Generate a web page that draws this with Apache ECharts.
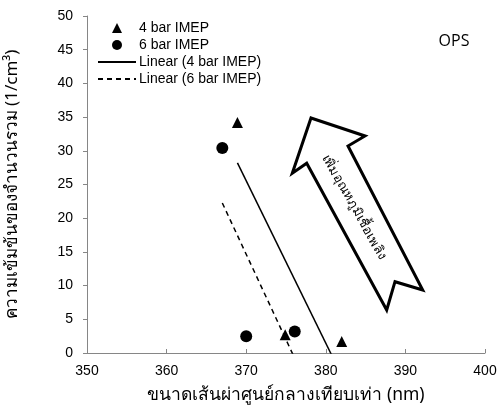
<!DOCTYPE html>
<html>
<head>
<meta charset="utf-8">
<script src="https://cdn.jsdelivr.net/npm/echarts@6/dist/echarts.min.js"></script>
<style>
html,body{margin:0;padding:0;background:#fff;}
#chart{width:500px;height:408px;}
</style>
</head>
<body>
<div id="chart"></div>
<script>
// ---- data ----
const xTicks = [350, 360, 370, 380, 390, 400];
const yTicks = [0, 5, 10, 15, 20, 25, 30, 35, 40, 45, 50];
const bar4X = [368.9, 374.9, 382.0];
const bar4Y = [34.2, 2.7, 1.7];
const bar6X = [367.0, 370.0, 376.1];
const bar6Y = [30.4, 2.5, 3.2];
const seriesNames = ['4 bar IMEP', '6 bar IMEP', 'Linear (4 bar IMEP)', 'Linear (6 bar IMEP)'];
const xTitle = 'ขนาดเส้นผ่าศูนย์กลางเทียบเท่า (nm)';
const yTitle = 'ความเข้มข้นของจำนวนรวม (1/cm³)';
const arrowText = 'เพิ่มอุณหภูมิเชื้อเพลิง';
const panelLabel = 'OPS';

function pairs(xs, ys) { return xs.map((x, i) => [x, ys[i]]); }
// least-squares trendline across the data's x range (like an Excel linear trendline)
function trend(xs, ys) {
  const n = xs.length;
  const mx = xs.reduce((a, b) => a + b, 0) / n;
  const my = ys.reduce((a, b) => a + b, 0) / n;
  let sxy = 0, sxx = 0;
  for (let i = 0; i < n; i++) { sxy += (xs[i] - mx) * (ys[i] - my); sxx += (xs[i] - mx) ** 2; }
  const k = sxy / sxx, b = my - k * mx;
  const x0 = Math.min(...xs), x1 = Math.max(...xs);
  return [[x0, k * x0 + b], [x1, k * x1 + b]];
}

const chart = echarts.init(document.getElementById('chart'), null, {renderer: 'canvas'});
const FONT = 'Liberation Sans, Arial, sans-serif';
const THAI = '"Noto Sans", "DejaVu Sans", sans-serif';
const axisGray = '#868686';
const hiddenMarker = {opacity: 0};
const triIcon = 'path://M0,10 L5,0 L10,10 Z';

chart.setOption({
  animation: false,
  backgroundColor: '#fff',
  grid: {left: 87, right: 15, top: 16, bottom: 55, containLabel: false, outerBoundsMode: 'none'},
  legend: {
    orient: 'vertical', left: 97, top: 21, padding: 0,
    itemWidth: 38, itemHeight: 10, itemGap: 3, symbolKeepAspect: true,
    textStyle: {fontFamily: FONT, fontSize: 14, color: '#000', padding: [0, 0, 0, -2]},
    data: [
      {name: seriesNames[0], icon: triIcon, itemStyle: {color: '#000', opacity: 1}},
      {name: seriesNames[1], icon: 'circle', itemStyle: {color: '#000', opacity: 1}},
      {name: seriesNames[2], itemStyle: hiddenMarker},
      {name: seriesNames[3], itemStyle: hiddenMarker}
    ]
  },
  xAxis: {
    type: 'value', min: xTicks[0], max: xTicks[xTicks.length - 1], interval: 10,
    name: xTitle, nameLocation: 'middle', nameGap: 33,
    nameTextStyle: {fontFamily: THAI, fontSize: 17.5, color: '#000'},
    axisLine: {show: true, lineStyle: {color: axisGray, width: 1}},
    axisTick: {show: true, inside: true, length: 4, lineStyle: {color: axisGray}},
    axisLabel: {fontFamily: FONT, fontSize: 14, color: '#000', margin: 11},
    splitLine: {show: false}
  },
  yAxis: {
    type: 'value', min: yTicks[0], max: yTicks[yTicks.length - 1], interval: 5,
    name: yTitle, nameLocation: 'middle', nameGap: 66,
    nameTextStyle: {fontFamily: THAI, fontSize: 17, color: '#000'},
    axisLine: {show: true, lineStyle: {color: axisGray, width: 1}},
    axisTick: {show: true, inside: false, length: 4, lineStyle: {color: axisGray}},
    axisLabel: {fontFamily: FONT, fontSize: 14, color: '#000', margin: 14},
    splitLine: {show: false}
  },
  series: [
    {name: seriesNames[0], type: 'scatter', data: pairs(bar4X, bar4Y), symbol: 'triangle', symbolSize: 11,
     itemStyle: {color: '#000', opacity: 1}, z: 5},
    {name: seriesNames[1], type: 'scatter', data: pairs(bar6X, bar6Y), symbol: 'circle', symbolSize: 12,
     itemStyle: {color: '#000', opacity: 1}, z: 5},
    {name: seriesNames[2], type: 'line', data: trend(bar4X, bar4Y), symbol: 'none', clip: true,
     lineStyle: {color: '#000', width: 1.5, type: 'solid'}, itemStyle: {color: '#000'}},
    {name: seriesNames[3], type: 'line', data: trend(bar6X, bar6Y), symbol: 'none', clip: true,
     lineStyle: {color: '#000', width: 1.5, type: [5, 4]}, itemStyle: {color: '#000'}}
  ],
  graphic: [
    {type: 'polygon', z: 3,
     shape: {points: [[311, 118], [365, 136], [348, 146], [422.7, 290], [395, 281.7], [386.7, 310], [306.7, 163.3], [292.3, 173.3]]},
     style: {fill: '#fff', stroke: '#000', lineWidth: 3, lineJoin: 'miter'}},
    {type: 'text', z: 4, x: 354, y: 207, rotation: -60.5 * Math.PI / 180,
     style: {text: arrowText, fontFamily: THAI, fontSize: 13, fill: '#000', align: 'center', verticalAlign: 'middle'}},
    {type: 'text', z: 4, x: 454, y: 41,
     style: {text: panelLabel, fontFamily: '"Open Sans", "Noto Sans", sans-serif', fontSize: 16, fill: '#000', align: 'center', verticalAlign: 'middle'}}
  ]
});
</script>
</body>
</html>
